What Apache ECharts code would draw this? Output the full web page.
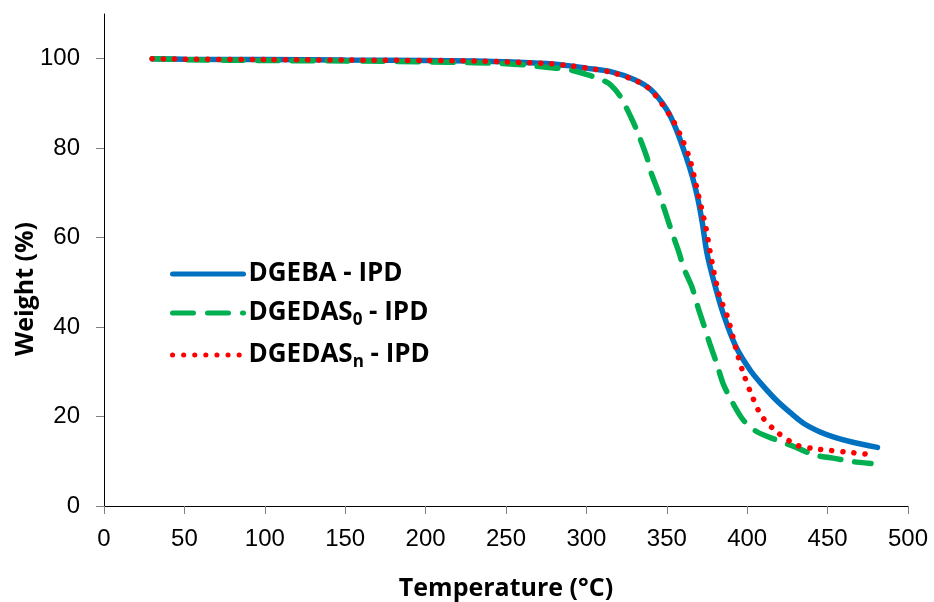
<!DOCTYPE html>
<html><head><meta charset="utf-8">
<script src="https://cdn.jsdelivr.net/npm/echarts@6/dist/echarts.min.js"></script>
<style>html,body{margin:0;padding:0;background:#fff}#c{width:934px;height:602px}</style>
</head><body><div id="c"></div>
<script>
const xTicks = [0, 50, 100, 150, 200, 250, 300, 350, 400, 450, 500];
const yTicks = [0, 20, 40, 60, 80, 100];

const dgebaT = [30, 50, 100, 150, 200, 230, 250, 265, 277, 290, 300, 315, 330, 340, 350, 356, 362, 366, 369, 372, 375, 379, 385, 393, 402, 410, 418, 427, 435, 445, 454, 465, 481];
const dgebaW = [100, 99.9, 99.8, 99.7, 99.6, 99.5, 99.3, 99.1, 98.9, 98.4, 97.9, 97.1, 95.3, 93.1, 88.6, 84.1, 78.1, 73.5, 69.2, 63.5, 56.5, 50.6, 43.1, 35.6, 30.3, 26.8, 23.7, 20.8, 18.5, 16.6, 15.4, 14.3, 13.1];

const das0T = [30, 50, 100, 150, 200, 230, 250, 262, 275, 290, 301, 310, 315, 321, 328, 332, 337.5, 340, 345, 349, 353, 357, 361, 365.5, 369.6, 373, 377, 381, 385, 390, 397.6, 406, 418, 429, 442, 453.5, 466, 477];
const das0W = [100, 99.8, 99.6, 99.5, 99.3, 99.1, 98.9, 98.6, 98.1, 97.5, 96.4, 95.2, 94.2, 91.6, 86.7, 83.4, 78.1, 74.8, 70, 65.8, 61.4, 57.3, 52.8, 49.1, 44.2, 40.5, 36, 31.9, 27.4, 23.7, 19.2, 16.6, 14.8, 13.3, 11.4, 10.7, 9.9, 9.5];

const dasnT = [30, 50, 100, 150, 200, 230, 250, 265, 277, 290, 300, 315, 330, 340, 353, 359, 364.4, 369.6, 374.4, 378, 382.6, 388, 393.5, 397.6, 402.8, 409, 418.3, 431, 442, 452, 463, 474];
const dasnW = [100, 99.9, 99.8, 99.7, 99.6, 99.5, 99.3, 99.1, 98.9, 98.4, 97.9, 97.0, 95.2, 93.0, 86.7, 82.5, 77.4, 69.6, 62.1, 54.7, 47.2, 42, 34.5, 29.7, 24.8, 20.1, 16.6, 13.6, 12.8, 12.4, 12.0, 11.6];

const names = ['DGEBA - IPD', 'DGEDAS0 - IPD', 'DGEDASn - IPD'];
const legendRich = {
  'DGEBA - IPD': '{a|DGEBA - IPD}',
  'DGEDAS0 - IPD': '{a|DGEDAS}{s|0}{a| - IPD}',
  'DGEDASn - IPD': '{a|DGEDAS}{s|n}{a| - IPD}'
};

function pairs(t, w) { return t.map((x, i) => [x, w[i]]); }

const chart = echarts.init(document.getElementById('c'), null, {renderer: 'canvas'});
const titleFont = {fontFamily: 'Open Sans', fontWeight: 'bold', fontSize: 25, color: '#000'};
chart.setOption({
  animation: false,
  backgroundColor: '#fff',
  grid: {left: 104, right: 26, top: 14, bottom: 96, containLabel: false, outerBoundsMode: 'none'},
  legend: {
    show: true,
    left: 165, top: 256,
    orient: 'vertical',
    itemWidth: 71, itemHeight: 14, itemGap: 13,
    data: names.map(n => ({name: n, itemStyle: {opacity: 0}})),
    lineStyle: {width: 5, cap: 'round'},
    formatter: n => legendRich[n],
    textStyle: {
      rich: {
        a: {fontFamily: 'Open Sans', fontWeight: 'bold', fontSize: 26, color: '#000'},
        s: {fontFamily: 'Open Sans', fontWeight: 'bold', fontSize: 17, color: '#000', padding: [15, 0, 0, 0]}
      }
    }
  },
  xAxis: {
    type: 'value', min: 0, max: 500, interval: 50,
    name: 'Temperature (°C)', nameLocation: 'middle', nameGap: 70, nameMoveOverlap: false,
    nameTextStyle: titleFont,
    axisLine: {show: true, lineStyle: {color: '#000', width: 1}},
    axisTick: {show: true, length: 8, lineStyle: {color: '#808080'}},
    axisLabel: {fontFamily: 'Liberation Sans', fontSize: 24, color: '#000', margin: 21,
      customValues: xTicks},
    splitLine: {show: false}
  },
  yAxis: {
    type: 'value', min: 0, max: 110, interval: 20,
    name: 'Weight (%)', nameLocation: 'middle', nameGap: 66, nameRotate: 90, nameMoveOverlap: false,
    nameTextStyle: Object.assign({padding: [0, 58, 0, 0]}, titleFont),
    axisLine: {show: true, lineStyle: {color: '#000', width: 1}},
    axisTick: {show: true, length: 8, lineStyle: {color: '#808080'}, customValues: yTicks},
    axisLabel: {fontFamily: 'Liberation Sans', fontSize: 24, color: '#000', margin: 24,
      customValues: yTicks},
    splitLine: {show: false}
  },
  series: [
    {name: names[0], type: 'line', data: pairs(dgebaT, dgebaW), smooth: 0.3, symbol: 'none', z: 2,
      lineStyle: {color: '#0070C0', width: 5.5, cap: 'round'}, itemStyle: {color: '#0070C0'}},
    {name: names[1], type: 'line', data: pairs(das0T, das0W), smooth: 0.3, symbol: 'none', z: 3,
      lineStyle: {color: '#00B050', width: 5.5, type: [21, 14], cap: 'round'}, itemStyle: {color: '#00B050'}},
    {name: names[2], type: 'line', data: pairs(dasnT, dasnW), smooth: 0.3, symbol: 'none', z: 4,
      lineStyle: {color: '#FF0000', width: 5.5, type: [0.1, 11], cap: 'round'}, itemStyle: {color: '#FF0000'}}
  ]
});
</script></body></html>
